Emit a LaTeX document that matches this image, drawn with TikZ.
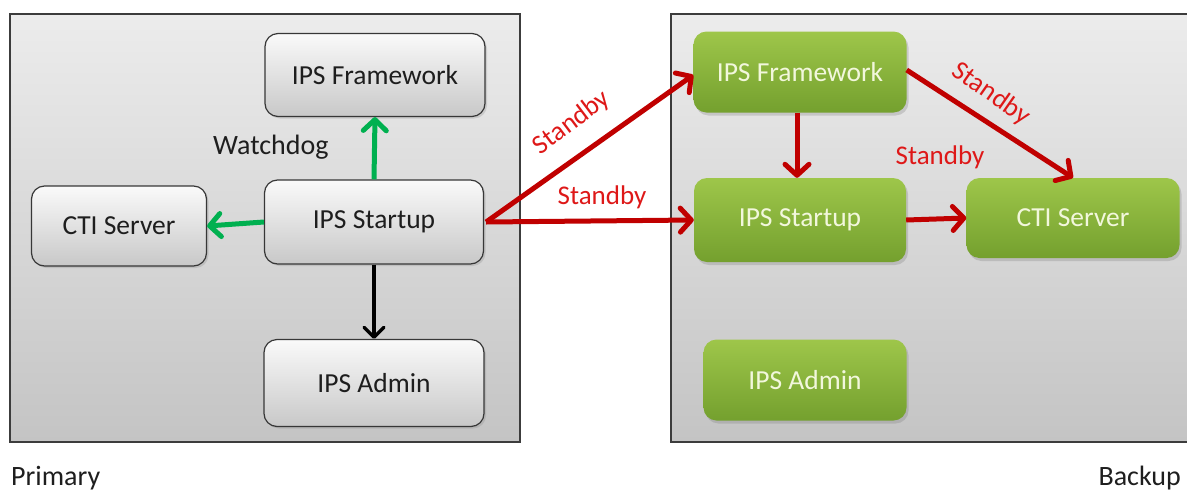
\documentclass[tikz,border=0pt]{standalone}
\usepackage{fontspec}
\setmainfont{Carlito}
\usetikzlibrary{arrows.meta,shadows}

\definecolor{panelTop}{RGB}{236,236,236}
\definecolor{panelBot}{RGB}{196,196,196}
\definecolor{panelLine}{RGB}{60,60,60}
\definecolor{boxTop}{RGB}{250,250,250}
\definecolor{boxBot}{RGB}{200,200,200}
\definecolor{boxLine}{RGB}{55,55,55}
\definecolor{boxText}{RGB}{30,30,30}
\definecolor{grnTop}{RGB}{158,198,74}
\definecolor{grnBot}{RGB}{116,160,46}
\definecolor{grnText}{RGB}{242,247,220}
\definecolor{wdGreen}{RGB}{0,176,80}
\definecolor{sbRed}{RGB}{192,0,0}
\definecolor{sbText}{RGB}{222,24,24}

\tikzset{
  panel/.style={draw=panelLine, line width=1.2pt, top color=panelTop, bottom color=panelBot},
  graybox/.style={rectangle, rounded corners=13pt, draw=boxLine, line width=1.2pt,
    top color=boxTop, bottom color=boxBot, text=boxText,
    drop shadow={opacity=0.25, shadow xshift=2pt, shadow yshift=-2pt},
    font=\fontsize{27.5}{32}\selectfont},
  greenbox/.style={rectangle, rounded corners=13pt, draw=none,
    top color=grnTop, bottom color=grnBot, text=grnText,
    drop shadow={opacity=0.3, shadow xshift=2pt, shadow yshift=-3pt},
    font=\fontsize{27.5}{32}\selectfont},
  wdarrow/.style={draw=wdGreen, line width=5pt, -{Straight Barb[length=11pt,width=23pt,round]}},
  blkarrow/.style={draw=black, line width=3.4pt, -{Straight Barb[length=10pt,width=20pt,round]}},
  sbarrow/.style={draw=sbRed, line width=5pt, -{Straight Barb[length=11pt,width=24pt,round]}},
  sblabel/.style={text=sbText, inner sep=0pt, font=\fontsize{27}{32}\selectfont},
  caption/.style={text=boxText, inner sep=1pt, font=\fontsize{28}{32}\selectfont}
}

\begin{document}
\begin{tikzpicture}[x=1pt, y=-1pt]
\useasboundingbox (0,0) rectangle (1187,491);
\clip (0,0) rectangle (1187,491);
\fill[white] (0,0) rectangle (1187,491);

% the two host panels
\path[panel] (10,14) rectangle (520,442);
\path[panel] (671,14) rectangle (1200,442);

% primary host
\node[graybox, minimum width=220pt, minimum height=83pt] (pfw) at (375,75) {IPS Framework};
\node[graybox, minimum width=175pt, minimum height=80pt] (pcti) at (119,226) {CTI Server};
\node[graybox, minimum width=219pt, minimum height=84pt] (pst) at (374,222) {IPS Startup};
\node[graybox, minimum width=220pt, minimum height=87pt] (padm) at (374,383) {IPS Admin};

% backup host
\node[greenbox, minimum width=213pt, minimum height=81pt] (bfw) at (800,72) {IPS Framework};
\node[greenbox, minimum width=212pt, minimum height=84pt] (bst) at (800,220) {IPS Startup};
\node[greenbox, minimum width=213pt, minimum height=80pt] (bcti) at (1073,218) {CTI Server};
\node[greenbox, minimum width=203pt, minimum height=81pt] (badm) at (805,380) {IPS Admin};

% watchdog links on the primary
\draw[wdarrow] (pst.north) -- (pfw.south);
\draw[wdarrow] (pst.west) -- (pcti.east);
\draw[blkarrow] (pst.south) -- (padm.north);
\node[caption, anchor=west] (wd) at (212,147) {Watchdog};

% standby links to the backup
\coordinate (src) at ([xshift=2pt]pst.east);
\draw[sbarrow] (src) -- ([yshift=-3pt]bfw.west);
\draw[sbarrow] (src) -- (bst.west);
\draw[sbarrow] ([xshift=-3pt]bfw.south) -- ([xshift=-3pt]bst.north);
\draw[sbarrow] (bst.east) -- (bcti.west);
\draw[sbarrow] ([yshift=2pt]bfw.east) -- (bcti.north);

\node[sblabel, rotate=37] (sb1) at (572,123) {Standby};
\node[sblabel] (sb2) at (602,197) {Standby};
\node[sblabel] (sb3) at (940,157) {Standby};
\node[sblabel, rotate=-35] (sb4) at (991,94) {Standby};

% host captions
\node[caption, anchor=west] (prim) at (10,478) {Primary};
\node[caption, anchor=east] (back) at (1182,478) {Backup};
\end{tikzpicture}
\end{document}
